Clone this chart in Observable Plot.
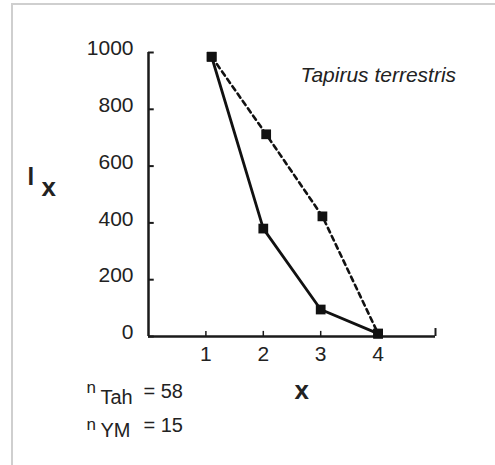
<!DOCTYPE html>
<html>
<head>
<meta charset="utf-8">
<script src="https://cdn.jsdelivr.net/npm/d3@7"></script>
<script src="https://cdn.jsdelivr.net/npm/@observablehq/plot@0.6"></script>
<style>
  html, body { margin: 0; padding: 0; background: #fff; }
  #wrap { position: relative; width: 495px; height: 465px; overflow: hidden; }
  #frame { position: absolute; left: 11px; top: 3px; width: 500px; height: 480px;
           border-left: 2px solid #cfcfcf; border-top: 2px solid #cfcfcf; }
  #chart { position: absolute; left: 0; top: 0; }
  svg text { font-family: "Liberation Sans", Arial, sans-serif; }
</style>
</head>
<body>
<div id="wrap"><div id="frame"></div><div id="chart"></div></div>
<script>
// Age classes and l_x values
const ageTah = [1.1, 2, 3, 4];
const lxTah  = [985, 380, 95, 10];
const ageYM  = [1.1, 2.05, 3.03, 4];
const lxYM   = [985, 712, 423, 10];
const xTicks = [1, 2, 3, 4];
const yTicks = [0, 200, 400, 600, 800, 1000];
const speciesLabel = "Tapirus terrestris";

const tah = ageTah.map((a, i) => ({age: a, lx: lxTah[i]}));
const ym  = ageYM.map((a, i) => ({age: a, lx: lxYM[i]}));

const font = "Liberation Sans, Arial, sans-serif";

const chart = Plot.plot({
  width: 495,
  height: 465,
  marginLeft: 148,
  marginRight: 60,
  marginTop: 52,
  marginBottom: 129,
  style: {fontFamily: font, background: "transparent", overflow: "visible"},
  x: {domain: [0, 5], axis: null},
  y: {domain: [0, 1000], axis: null},
  marks: [
    // axis lines
    Plot.ruleX([0], {y1: 0, y2: 1000, stroke: "#1a1a1a", strokeWidth: 2.5}),
    Plot.ruleY([0], {x1: 0, x2: 5, stroke: "#1a1a1a", strokeWidth: 2.5}),
    // y ticks (inward)
    Plot.ruleY(yTicks, {x1: 0, x2: 0.1, stroke: "#1a1a1a", strokeWidth: 2}),
    // x ticks (inward)
    Plot.ruleX(xTicks, {y1: 0, y2: 18, stroke: "#1a1a1a", strokeWidth: 1.5}),
    Plot.ruleX([5], {y1: 0, y2: 28, stroke: "#1a1a1a", strokeWidth: 2}),
    // tick labels
    Plot.text(yTicks, {x: 0, y: d => d, text: d => String(d), textAnchor: "end", dx: -15, dy: -4,
      fontSize: 21, fill: "#222"}),
    Plot.text(xTicks, {x: d => d, y: 0, text: d => String(d), lineAnchor: "top", dy: 10,
      fontSize: 21, fill: "#222"}),
    // series
    Plot.line(ym, {x: "age", y: "lx", stroke: "#111", strokeWidth: 2.6, strokeDasharray: "5,4"}),
    Plot.line(tah, {x: "age", y: "lx", stroke: "#111", strokeWidth: 2.8}),
    Plot.dot(ym, {x: "age", y: "lx", symbol: "square", r: 5.5, fill: "#111"}),
    Plot.dot(tah, {x: "age", y: "lx", symbol: "square", r: 5.5, fill: "#111"}),
    // species label
    Plot.text([speciesLabel], {frameAnchor: "top-left", dx: 152, dy: 29, lineAnchor: "bottom",
      textAnchor: "start", fontSize: 21, fontStyle: "italic", fill: "#222"}),
    // y label "l x"
    Plot.text(["l"], {frameAnchor: "top-left", dx: -121, dy: 132, lineAnchor: "bottom",
      textAnchor: "start", fontSize: 24, fontWeight: "bold", fill: "#222"}),
    Plot.text(["x"], {frameAnchor: "top-left", dx: -107, dy: 143, lineAnchor: "bottom",
      textAnchor: "start", fontSize: 26, fontWeight: "bold", fill: "#222"}),
    // x label
    Plot.text(["x"], {frameAnchor: "bottom-left", dx: 146, dy: 62, lineAnchor: "bottom",
      textAnchor: "start", fontSize: 26, fontWeight: "bold", fill: "#222"}),
    // sample sizes
    Plot.text(["n"], {frameAnchor: "bottom-left", dx: -62, dy: 56, lineAnchor: "bottom",
      textAnchor: "start", fontSize: 17, fill: "#222"}),
    Plot.text(["Tah"], {frameAnchor: "bottom-left", dx: -48, dy: 67, lineAnchor: "bottom",
      textAnchor: "start", fontSize: 20, fill: "#222"}),
    Plot.text(["= 58"], {frameAnchor: "bottom-left", dx: -5, dy: 61, lineAnchor: "bottom",
      textAnchor: "start", fontSize: 20, fill: "#222"}),
    Plot.text(["n"], {frameAnchor: "bottom-left", dx: -62, dy: 93, lineAnchor: "bottom",
      textAnchor: "start", fontSize: 17, fill: "#222"}),
    Plot.text(["YM"], {frameAnchor: "bottom-left", dx: -48, dy: 100, lineAnchor: "bottom",
      textAnchor: "start", fontSize: 20, fill: "#222"}),
    Plot.text(["= 15"], {frameAnchor: "bottom-left", dx: -5, dy: 95, lineAnchor: "bottom",
      textAnchor: "start", fontSize: 20, fill: "#222"})
  ]
});
document.getElementById("chart").appendChild(chart);
</script>
</body>
</html>
